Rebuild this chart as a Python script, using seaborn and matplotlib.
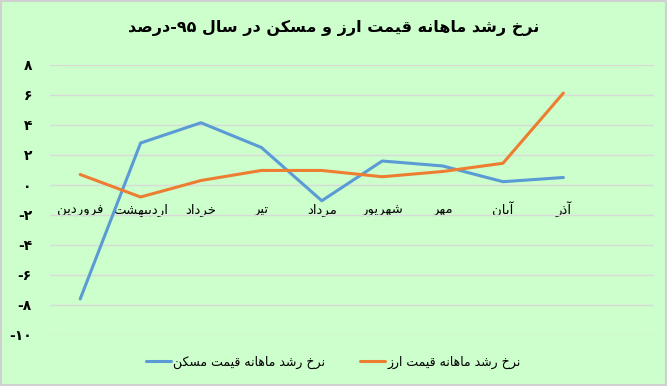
import matplotlib
matplotlib.use("Agg")
import matplotlib.pyplot as plt
import seaborn as sns
import pandas as pd
from matplotlib.patches import Rectangle
from matplotlib.lines import Line2D

# ---------------- data ----------------
months = ["فروردین", "اردیبهشت", "خرداد", "تیر", "مرداد", "شهریور", "مهر", "آبان", "آذر"]
housing = [-7.6, 2.8, 4.15, 2.5, -1.05, 1.6, 1.27, 0.22, 0.5]
currency = [0.7, -0.8, 0.3, 0.97, 0.97, 0.55, 0.9, 1.45, 6.13]
series_housing = "نرخ رشد ماهانه قیمت مسکن"
series_currency = "نرخ رشد ماهانه قیمت ارز"
title = "نرخ رشد ماهانه قیمت ارز و مسکن در سال ۹۵-درصد"
yticks = [8, 6, 4, 2, 0, -2, -4, -6, -8, -10]
ytick_labels = ["۸", "۶", "۴", "۲", "۰", "-۲", "-۴", "-۶", "-۸", "-۱۰"]

# ---------------- minimal Arabic/Persian shaping ----------------
FORMS = {  # isolated, final, initial, medial
    'ا': ('\uFE8D', '\uFE8E', None, None),
    'آ': ('\uFE81', '\uFE82', None, None),
    'ب': ('\uFE8F', '\uFE90', '\uFE91', '\uFE92'),
    'ت': ('\uFE95', '\uFE96', '\uFE97', '\uFE98'),
    'خ': ('\uFEA5', '\uFEA6', '\uFEA7', '\uFEA8'),
    'د': ('\uFEA9', '\uFEAA', None, None),
    'ذ': ('\uFEAB', '\uFEAC', None, None),
    'ر': ('\uFEAD', '\uFEAE', None, None),
    'ز': ('\uFEAF', '\uFEB0', None, None),
    'س': ('\uFEB1', '\uFEB2', '\uFEB3', '\uFEB4'),
    'ش': ('\uFEB5', '\uFEB6', '\uFEB7', '\uFEB8'),
    'ص': ('\uFEB9', '\uFEBA', '\uFEBB', '\uFEBC'),
    'ف': ('\uFED1', '\uFED2', '\uFED3', '\uFED4'),
    'ق': ('\uFED5', '\uFED6', '\uFED7', '\uFED8'),
    'ل': ('\uFEDD', '\uFEDE', '\uFEDF', '\uFEE0'),
    'م': ('\uFEE1', '\uFEE2', '\uFEE3', '\uFEE4'),
    'ن': ('\uFEE5', '\uFEE6', '\uFEE7', '\uFEE8'),
    'ه': ('\uFEE9', '\uFEEA', '\uFEEB', '\uFEEC'),
    'و': ('\uFEED', '\uFEEE', None, None),
    'ی': ('\uFBFC', '\uFBFD', '\uFBFE', '\uFBFF'),
    'ک': ('\uFB8E', '\uFB8F', '\uFB90', '\uFB91'),
}
DIGITS = set("۰۱۲۳۴۵۶۷۸۹0123456789")


def dual(c):
    return c in FORMS and FORMS[c][2] is not None


def fa(text):
    out = []
    n = len(text)
    for i, ch in enumerate(text):
        if ch not in FORMS:
            out.append(ch)
            continue
        prev_j = i > 0 and dual(text[i - 1])
        next_j = dual(ch) and i + 1 < n and text[i + 1] in FORMS
        iso, fin, ini, med = FORMS[ch]
        if prev_j and next_j:
            out.append(med)
        elif prev_j:
            out.append(fin)
        elif next_j:
            out.append(ini)
        else:
            out.append(iso)
    vis = "".join(out)[::-1]
    # keep digit runs left-to-right
    res, run = [], []
    for ch in vis:
        if ch in DIGITS:
            run.append(ch)
        else:
            if run:
                res.extend(run[::-1]); run = []
            res.append(ch)
    if run:
        res.extend(run[::-1])
    return "".join(res)


# ---------------- plot ----------------
sns.set_theme(style="white")
plt.rcParams['font.family'] = ['DejaVu Sans']
plt.rcParams['text.color'] = 'black'
plt.rcParams['xtick.color'] = 'black'
plt.rcParams['ytick.color'] = 'black'

bg = "#ccffcc"
blue = "#5b9bd5"
orange = "#ed7d31"
fig = plt.figure(figsize=(6.67, 3.86), dpi=100, facecolor=bg)
ax = fig.add_axes([50 / 667, 1 - 335 / 386, 604 / 667, 270 / 386])
ax.set_facecolor(bg)

df = pd.DataFrame({
    "pos": list(range(len(months))) * 2,
    "value": housing + currency,
    "series": [series_housing] * len(months) + [series_currency] * len(months),
})
sns.lineplot(data=df, x="pos", y="value", hue="series",
             palette={series_housing: blue, series_currency: orange},
             linewidth=2.2, sort=False, ax=ax, legend=False)

ax.set_xlim(-0.5, 9.5)
ax.set_ylim(-10, 8)
ax.set_yticks(yticks)
ax.set_yticklabels(ytick_labels, fontsize=10, fontweight="bold")
ax.tick_params(axis="y", length=0, pad=13)
ax.yaxis.grid(True, color="#d9d9d9", linewidth=1)
ax.set_axisbelow(True)
for s in ax.spines.values():
    s.set_visible(False)

ax.spines['bottom'].set_position(('data', 0))
ax.set_xticks(range(len(months)))
ax.set_xticklabels([fa(m) for m in months], fontsize=9.5)
ax.tick_params(axis="x", length=0, pad=20.5)
for lbl in ax.get_xticklabels():
    lbl.set_verticalalignment("baseline")
ax.set_xlabel("")
ax.set_ylabel("")

fig.text(0.5, 1 - 28 / 386, fa(title), ha="center", va="center",
         fontsize=11.5, fontweight="bold")

handles = [Line2D([], [], color=blue, lw=2.2), Line2D([], [], color=orange, lw=2.2)]
fig.legend(handles, [fa(series_housing), fa(series_currency)], loc="center",
           bbox_to_anchor=(0.5, 1 - 362 / 386), ncol=2, frameon=False,
           fontsize=9, handlelength=2.0, columnspacing=2.8, handletextpad=0.2)

fig.patches.append(Rectangle((0.002, 0.003), 0.996, 0.994, transform=fig.transFigure,
                             fill=False, edgecolor="#d0d0d0", linewidth=1.5))

fig.savefig("out.png", dpi=100, facecolor=bg)
